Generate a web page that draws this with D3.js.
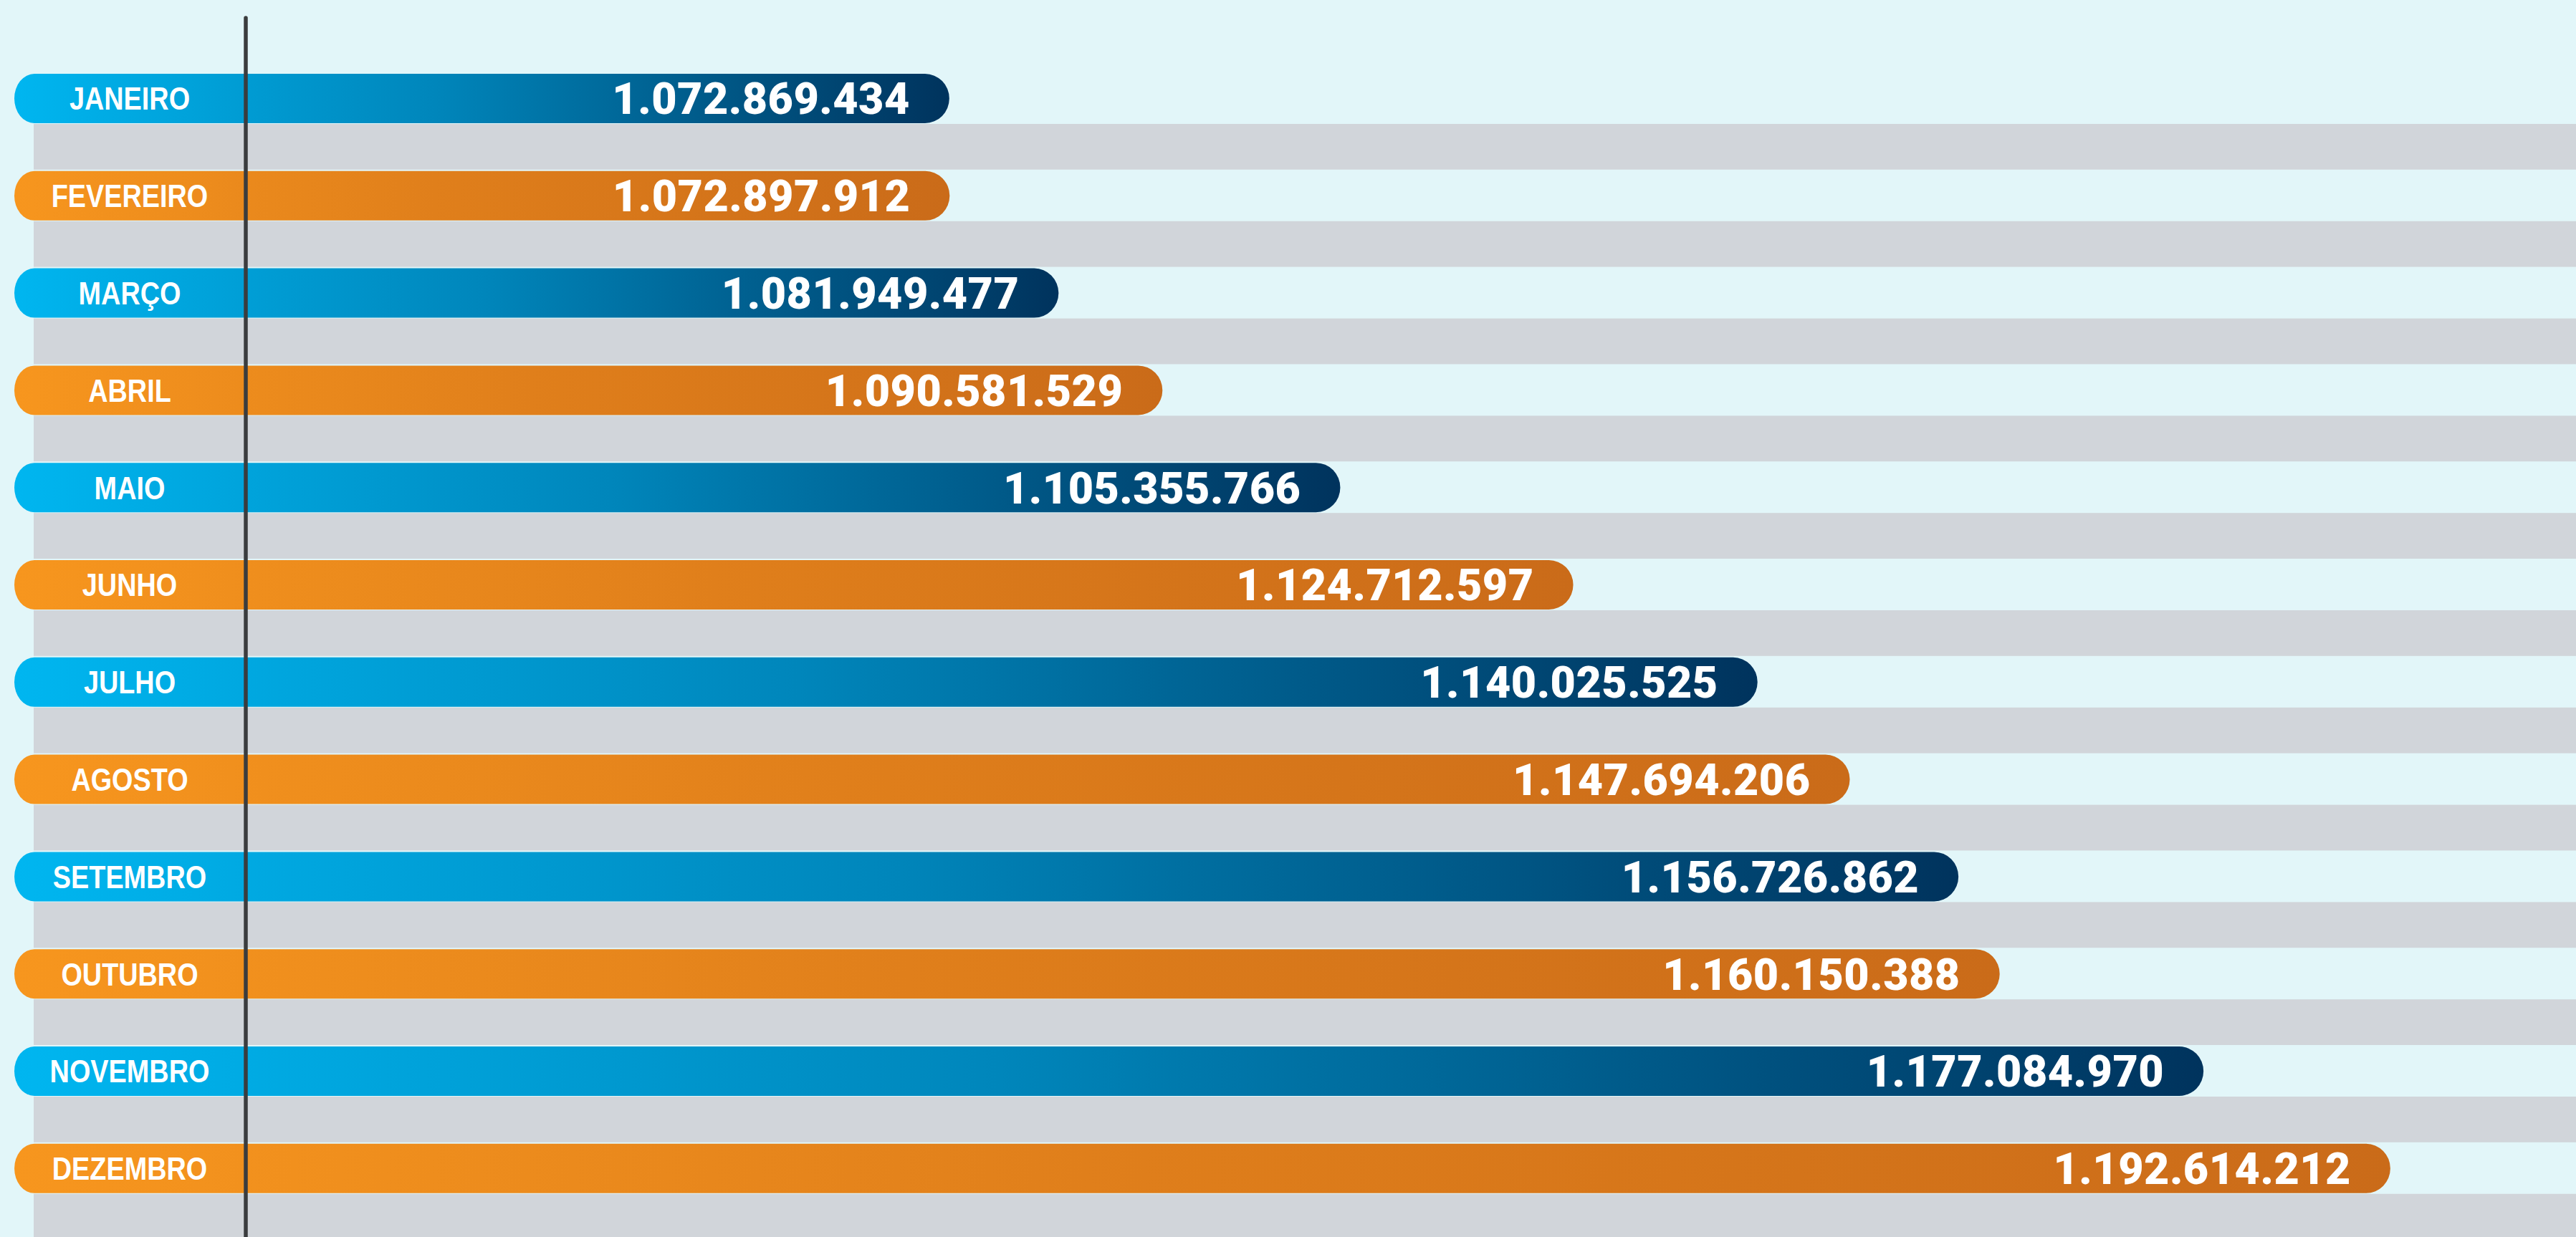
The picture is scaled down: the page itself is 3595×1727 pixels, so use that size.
<!DOCTYPE html>
<html lang="pt-BR">
<head>
<meta charset="utf-8">
<title>Meses</title>
<script src="https://cdn.jsdelivr.net/npm/d3@7"></script>
<style>
    html, body { margin: 0; padding: 0; background: #e2f6f9; }
    svg { display: block; }
</style>
</head>
<body>
<div id="grafico"></div>
<script>
// dados
const meses = ['JANEIRO', 'FEVEREIRO', 'MARÇO', 'ABRIL', 'MAIO', 'JUNHO',
    'JULHO', 'AGOSTO', 'SETEMBRO', 'OUTUBRO', 'NOVEMBRO', 'DEZEMBRO']
const valores = [1072869434, 1072897912, 1081949477, 1090581529, 1105355766, 1124712597,
    1140025525, 1147694206, 1156726862, 1160150388, 1177084970, 1192614212]
const dominio = [995e6, 1200e6]

class BarrasMeses {
    constructor(container) {
        this.container = container
        this.width = 3595
        this.height = 1727
        this.barLeft = 20
        this.capL = 28   // arredondamento esquerdo
        this.capR = 34   // arredondamento direito
        this.paletas = {
            azul: ['#00b6f0', '#0086bb', '#00335d'],
            laranja: ['#f7961e', '#e07f1b', '#ca6b19']
        }
        this.init()
    }
    init() {
        this.createSvg()
        this.createScales()
        this.createGradients()
        this.createStripes()
        this.createBars()
        this.createAxis()
        this.createLabels()
    }
    createSvg() {
        this.svg = d3.select(this.container).append('svg')
            .attr('width', this.width)
            .attr('height', this.height)
        this.svg.append('rect')
            .attr('width', this.width)
            .attr('height', this.height)
            .attr('fill', '#e2f6f9')
    }
    createScales() {
        this.x = d3.scaleLinear()
            .domain(dominio)
            .range([17, 3460])
        const step = 135.8
        this.y = d3.scaleBand()
            .domain(meses)
            .range([103, 103 + meses.length * step])
            .paddingInner(0.492)
            .paddingOuter(0.246)
            .align(0)
        this.fmt = d3.formatLocale({ decimal: ',', thousands: '.', grouping: [3], currency: ['R$', ''] }).format(',d')
    }
    cor(i) {
        return i % 2 === 0 ? 'azul' : 'laranja'
    }
    createGradients() {
        const defs = this.svg.append('defs')
        Object.entries(this.paletas).forEach(([nome, c]) => {
            const g = defs.append('linearGradient')
                .attr('id', 'grad_' + nome)
                .attr('x1', 0).attr('x2', 1)
                .attr('y1', 0).attr('y2', 0)
            g.append('stop').attr('offset', '0%').attr('stop-color', c[0])
            g.append('stop').attr('offset', '45%').attr('stop-color', c[1])
            g.append('stop').attr('offset', '100%').attr('stop-color', c[2])
        })
    }
    createStripes() {
        // faixas cinza entre as barras
        const bw = this.y.bandwidth()
        const step = this.y.step()
        this.svg.append('g')
            .attr('class', 'faixas')
            .selectAll('rect')
            .data(meses)
            .enter()
            .append('rect')
            .attr('x', 47)
            .attr('y', d => this.y(d) + bw + 1)
            .attr('width', this.width - 47)
            .attr('height', step - bw - 3)
            .attr('fill', '#d1d5da')
    }
    barPath(x1, top, h) {
        const x0 = this.barLeft
        const ry = h / 2
        return `M${x0 + this.capL},${top}` +
            `L${x1 - this.capR},${top}` +
            `A${this.capR},${ry} 0 0 1 ${x1 - this.capR},${top + h}` +
            `L${x0 + this.capL},${top + h}` +
            `A${this.capL},${ry} 0 0 1 ${x0 + this.capL},${top}Z`
    }
    createBars() {
        const bw = this.y.bandwidth()
        this.svg.append('g')
            .attr('class', 'barras')
            .selectAll('path')
            .data(valores)
            .enter()
            .append('path')
            .attr('d', (d, i) => this.barPath(this.x(d), this.y(meses[i]), bw))
            .attr('fill', (d, i) => `url(#grad_${this.cor(i)})`)
    }
    createAxis() {
        this.svg.append('line')
            .attr('x1', 343).attr('x2', 343)
            .attr('y1', 25).attr('y2', this.height + 5)
            .attr('stroke', '#3a3c3e')
            .attr('stroke-width', 5.5)
            .attr('stroke-linecap', 'round')
    }
    createLabels() {
        const bw = this.y.bandwidth()
        const g = this.svg.append('g').attr('class', 'rotulos')
        // nomes dos meses (fonte estreitada na horizontal)
        g.selectAll('.mes')
            .data(meses)
            .enter()
            .append('text')
            .attr('class', 'mes')
            .attr('transform', d => `translate(181,${this.y(d) + bw / 2}) scale(0.86,1)`)
            .attr('dy', '0.36em')
            .attr('text-anchor', 'middle')
            .attr('fill', '#fff')
            .style('font-family', '"Liberation Sans", Arial, sans-serif')
            .style('font-weight', 700)
            .style('font-size', '44px')
            .text(d => d)
        g.selectAll('.valor')
            .data(valores)
            .enter()
            .append('text')
            .attr('class', 'valor')
            .attr('x', d => this.x(d) - 55)
            .attr('y', (d, i) => this.y(meses[i]) + bw / 2)
            .attr('dy', '0.36em')
            .attr('text-anchor', 'end')
            .attr('fill', '#fff')
            .style('font-family', 'Roboto, "Liberation Sans", sans-serif')
            .style('font-weight', 900)
            .style('font-size', '61px')
            .style('letter-spacing', '0.5px')
            .text(d => this.fmt(d))
    }
}

new BarrasMeses(document.getElementById('grafico'))
</script>
</body>
</html>
